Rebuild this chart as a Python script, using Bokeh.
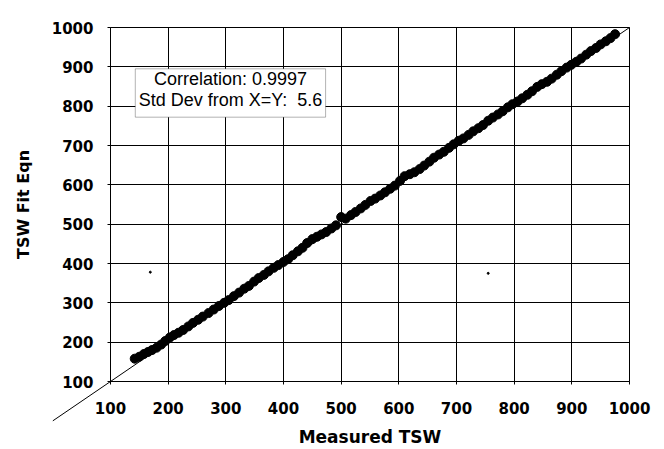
"""TSW フィット式と実測値の比較グラフ."""
import typing as typ
import bokeh.models as bm
import bokeh.plotting as bp
from bokeh.embed import file_html
from bokeh.resources import INLINE

# 実測 TSW
measured: typ.List[float] = [
    142, 150, 158, 165, 172, 180, 188, 195, 203, 210, 218, 226, 235, 243, 252, 260, 270, 279, 288, 297,
    305, 314, 323, 332, 340, 349, 357, 366, 374, 383, 391, 400, 408, 416, 425, 433, 441, 450, 458, 466,
    474, 483, 491, 500, 508, 517, 525, 534, 542, 551, 559, 568, 576, 585, 593, 602, 610, 619, 627, 636,
    644, 653, 661, 670, 678, 687, 695, 704, 712, 721, 729, 738, 746, 755, 763, 772, 780, 789, 797, 806,
    814, 823, 831, 840, 848, 857, 865, 874, 882, 891, 899, 908, 916, 925, 933, 942, 950, 959, 967, 975,
]
# フィット式による TSW
fitted: typ.List[float] = [
    158, 163, 170, 175, 180, 186, 194, 203, 212, 218, 224, 231, 240, 249, 257, 265, 274, 283, 292, 300,
    307, 317, 326, 336, 343, 354, 363, 371, 380, 389, 396, 404, 411, 421, 431, 440, 452, 462, 468, 474,
    480, 489, 497, 518, 514, 523, 531, 540, 549, 559, 565, 573, 581, 590, 598, 610, 622, 627, 632, 640,
    649, 659, 669, 677, 684, 694, 703, 712, 718, 727, 736, 744, 752, 763, 771, 779, 787, 797, 805, 812,
    820, 829, 838, 849, 856, 862, 870, 880, 889, 898, 905, 913, 921, 931, 940, 948, 957, 965, 973, 983,
]
# 孤立点
stray_x: typ.List[float] = [169, 755]
stray_y: typ.List[float] = [378, 375]
# X=Y 線 (原点から)
diag: typ.List[float] = [0, 1000]
ticks: typ.List[int] = [100, 200, 300, 400, 500, 600, 700, 800, 900, 1000]
stats_lines: typ.List[str] = ["Correlation: 0.9997", "Std Dev from X=Y:\u00a0 5.6"]

BOLD_FONT: str = "DejaVu Sans"


def make_graph() -> bp.figure:
    """グラフを描く.

    Returns:
        figure
    """
    fig: bp.figure = bp.figure(
        width=664,
        height=449,
        x_range=bm.Range1d(100, 1000),
        y_range=bm.Range1d(100, 1000),
        x_axis_label="Measured TSW",
        y_axis_label="TSW Fit Eqn",
        toolbar_location=None,
        output_backend="svg",
        min_border_left=110,
        min_border_right=35,
        min_border_top=27,
        min_border_bottom=66,
    )
    fig.background_fill_color = "white"
    fig.border_fill_color = "white"
    fig.outline_line_color = "black"
    fig.outline_line_width = 1

    for axis in (fig.xaxis, fig.yaxis):
        axis.ticker = bm.FixedTicker(ticks=ticks)
        axis.minor_tick_line_color = None
        axis.major_tick_out = 3
        axis.major_tick_in = 0
        axis.axis_line_color = "black"
        axis.major_tick_line_color = "black"
        axis.major_label_text_font = BOLD_FONT
        axis.major_label_text_font_style = "bold"
        axis.major_label_text_font_size = "15px"
        axis.major_label_text_color = "black"
        axis.axis_label_text_font = BOLD_FONT
        axis.axis_label_text_font_style = "bold"
        axis.axis_label_text_color = "black"
    fig.xaxis.major_label_standoff = 17
    fig.xaxis.axis_label_standoff = 10
    fig.xaxis.axis_label_text_font_size = "17px"
    fig.yaxis.major_label_standoff = 14
    fig.yaxis.axis_label_standoff = 16
    fig.yaxis.axis_label_text_font_size = "16px"

    for grid in (fig.xgrid, fig.ygrid):
        grid.grid_line_color = "black"
        grid.grid_line_alpha = 1.0
        grid.grid_line_width = 1

    source: bp.ColumnDataSource = bp.ColumnDataSource({"measured": measured, "fitted": fitted})
    fig.scatter("measured", "fitted", source=source, size=9, marker="circle",
                fill_color="black", line_color="black")
    fig.scatter(stray_x, stray_y, size=2, marker="circle", fill_color="black", line_color="black")

    # X=Y 線: overlay にすると枠で切られないので原点まで伸びる
    fig.line(diag, diag, line_color="black", line_width=1, level="overlay")

    fig.add_layout(bm.BoxAnnotation(left=143, right=473, bottom=772, top=895,
                                    fill_color="white", fill_alpha=1.0,
                                    line_color="black", line_width=1))
    for text, ypos in zip(stats_lines, [868, 815]):
        fig.add_layout(bm.Label(x=308, y=ypos, text=text, text_align="center", text_baseline="middle",
                                text_font="Liberation Sans", text_font_size="18px", text_color="black"))
    return fig


def main() -> None:
    """メイン."""
    fig: bp.figure = make_graph()
    with open("out.html", "w") as f:
        f.write(file_html(fig, INLINE))


if __name__ == "__main__":
    main()
